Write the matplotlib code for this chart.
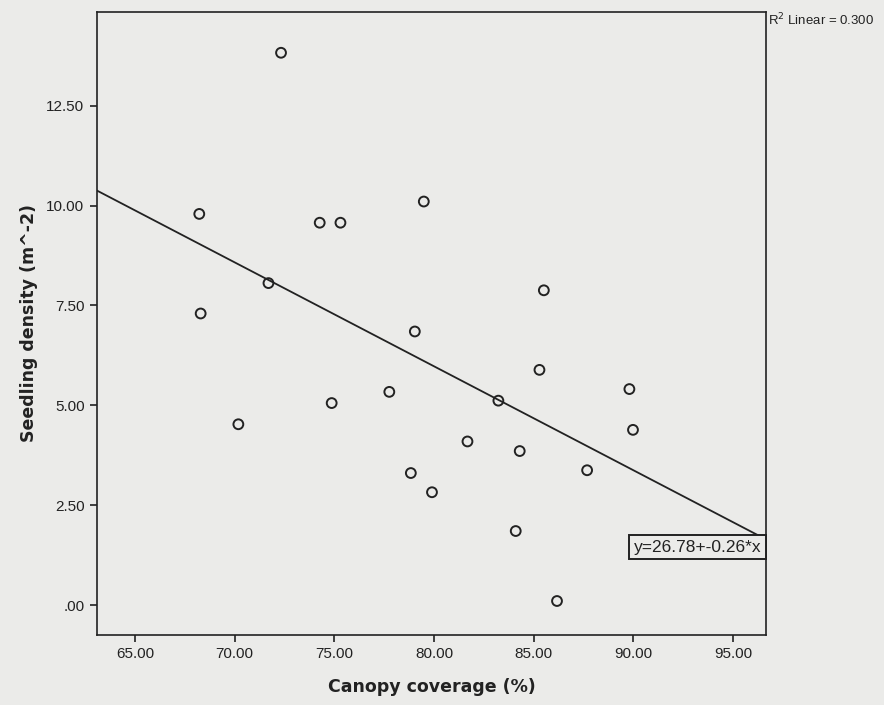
import matplotlib.pyplot as plt
import numpy as np

plt.rcParams['font.family'] = ['Liberation Sans', 'DejaVu Sans']

# canopy coverage (%) and seedling density (m^-2)
cobertura = [72.33, 68.23, 68.30, 71.70, 70.19, 74.27, 75.31, 79.49, 74.87,
             77.76, 79.04, 78.84, 79.90, 81.68, 83.23, 84.30, 84.10, 85.29,
             85.51, 86.17, 87.68, 89.80, 89.98]
densidad = [13.82, 9.79, 7.30, 8.06, 4.53, 9.57, 9.57, 10.10, 5.06,
            5.34, 6.85, 3.31, 2.83, 4.10, 5.12, 3.86, 1.86, 5.89,
            7.88, 0.11, 3.38, 5.41, 4.39]

# fitted line as printed in the chart
intercepto = 26.78
pendiente = -0.26
r2 = 0.300

xticks = [65, 70, 75, 80, 85, 90, 95]
yticks = [0, 2.5, 5, 7.5, 10, 12.5]
ytick_labels = ['.00', '2.50', '5.00', '7.50', '10.00', '12.50']

fondo = '#ebebe9'
fig = plt.figure(figsize=(8.84, 7.05), dpi=100, facecolor=fondo)
ax = fig.add_axes([0.1097, 0.0993, 0.7568, 0.8837], facecolor=fondo)

xmin, xmax = 63.10, 96.65
ax.set_xlim(xmin, xmax)
ax.set_ylim(-0.74, 14.84)

ax.scatter(cobertura, densidad, s=50, facecolors='none', edgecolors='#222222',
           linewidths=1.4, zorder=3)

xl = np.array([xmin, xmax])
ax.plot(xl, intercepto + pendiente * xl, color='#222222', lw=1.3, zorder=2)

ax.text(96.42, 1.46, 'y=26.78+-0.26*x', ha='right', va='center', fontsize=12.5,
        color='#222222',
        bbox=dict(boxstyle='square,pad=0.25', facecolor=fondo, edgecolor='#222222', lw=1.4))

fig.text(0.869, 0.972, 'R$^2$ Linear = %.3f' % r2, fontsize=9.5, color='#222222',
         ha='left', va='center')

ax.set_xticks(xticks)
ax.set_xticklabels(['%.2f' % v for v in xticks])
ax.set_yticks(yticks)
ax.set_yticklabels(ytick_labels)
ax.tick_params(direction='out', length=5, width=1.2, colors='#222222',
               labelsize=11, pad=4)

for s in ax.spines.values():
    s.set_color('#222222')
    s.set_linewidth(1.2)

ax.set_xlabel('Canopy coverage (%)', fontsize=12.5, fontweight='bold',
              family='DejaVu Sans', color='#222222', labelpad=12)
ax.set_ylabel('Seedling density (m^-2)', fontsize=12.5, fontweight='bold',
              family='DejaVu Sans', color='#222222', labelpad=6)

fig.savefig('out.png', dpi=100, facecolor=fondo)
